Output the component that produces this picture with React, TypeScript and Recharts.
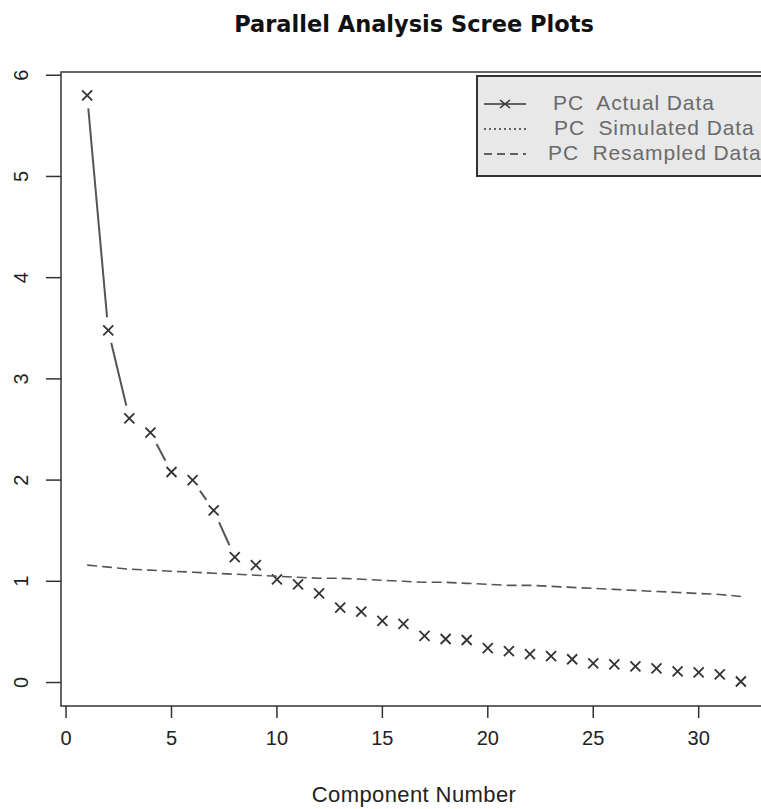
import * as React from "react";
import {
  ComposedChart,
  Line,
  Scatter,
  XAxis,
  YAxis,
  ReferenceArea,
} from "recharts";

// component numbers (x) and eigen values
const componentNumbers = [
  1, 2, 3, 4, 5, 6, 7, 8, 9, 10, 11, 12, 13, 14, 15, 16, 17, 18, 19, 20, 21,
  22, 23, 24, 25, 26, 27, 28, 29, 30, 31, 32,
];
const actualData = [
  5.8, 3.48, 2.61, 2.47, 2.08, 2.0, 1.7, 1.24, 1.16, 1.02, 0.97, 0.88, 0.74,
  0.7, 0.61, 0.58, 0.46, 0.43, 0.42, 0.34, 0.31, 0.28, 0.26, 0.23, 0.19, 0.18,
  0.16, 0.14, 0.11, 0.1, 0.08, 0.01,
];
const resampledData = [
  1.16, 1.14, 1.12, 1.11, 1.1, 1.09, 1.08, 1.07, 1.06, 1.05, 1.04, 1.03, 1.03,
  1.02, 1.01, 1.0, 0.99, 0.99, 0.98, 0.97, 0.96, 0.96, 0.95, 0.94, 0.93, 0.92,
  0.91, 0.9, 0.89, 0.88, 0.87, 0.85,
];
// index ranges where R (type = "b") had room to draw a connecting segment
const connectedRuns = [
  [0, 2],
  [3, 4],
  [5, 7],
];
const xTicks = [0, 5, 10, 15, 20, 25, 30];
const yTicks = [0, 1, 2, 3, 4, 5, 6];
const legendItems = [
  { label: "PC  Actual Data", dash: "", mark: true, indent: 75 },
  { label: "PC  Simulated Data", dash: "2 3", mark: false, indent: 76 },
  { label: "PC  Resampled Data", dash: "8 5", mark: false, indent: 70 },
];

const FONT = '"Liberation Sans", Arial, sans-serif';
const INK = "#333";

const rows = componentNumbers.map((x, i) => {
  const row: any = { x, actual: actualData[i], resampled: resampledData[i] };
  connectedRuns.forEach(([a, b], k) => {
    row["run" + k] = i >= a && i <= b ? actualData[i] : null;
  });
  return row;
});

const XMark = (props: any) => {
  const { cx, cy } = props;
  if (cx == null || cy == null) return null;
  return (
    <g>
      <circle cx={cx} cy={cy} r={13} fill="#fff" />
      <path
        d={`M${cx - 5},${cy - 5}L${cx + 5},${cy + 5}M${cx - 5},${cy + 5}L${cx + 5},${cy - 5}`}
        stroke={INK}
        strokeWidth={1.8}
      />
    </g>
  );
};

const XTick = (props: any) => {
  const { x, y, payload } = props;
  return (
    <text x={x} y={y + 25} textAnchor="middle" fontSize={20} fill="#222" fontFamily={FONT}>
      {payload.value}
    </text>
  );
};

const YTick = (props: any) => {
  const { x, y, payload } = props;
  const tx = x - 16;
  return (
    <text
      x={tx}
      y={y}
      textAnchor="middle"
      fontSize={20}
      fill="#222"
      fontFamily={FONT}
      transform={`rotate(-90, ${tx}, ${y})`}
    >
      {payload.value}
    </text>
  );
};

export default function App() {
  return (
    <div
      style={{
        position: "absolute",
        left: 0,
        top: 0,
        width: 761,
        height: 809,
        overflow: "hidden",
        background: "#fff",
        fontFamily: FONT,
      }}
    >
      <div
        style={{
          position: "absolute",
          left: 0,
          top: 11,
          width: 828,
          textAlign: "center",
          fontWeight: "bold",
          fontSize: 22.5,
          fontFamily: '"DejaVu Sans", sans-serif',
          color: "#111",
        }}
      >
        Parallel Analysis Scree Plots
      </div>
      <ComposedChart
        width={761}
        height={809}
        data={rows}
        margin={{ top: 72, right: -6, bottom: 0, left: 0 }}
      >
        <XAxis
          dataKey="x"
          type="number"
          domain={[-0.24, 33.24]}
          ticks={xTicks}
          allowDataOverflow
          axisLine={false}
          tickSize={12}
          tickLine={{ stroke: INK, strokeWidth: 1.5 }}
          tick={<XTick />}
          height={103}
          label={{
            value: "Component Number",
            position: "insideBottom",
            offset: 7,
            fill: "#222",
            fontSize: 22,
            fontFamily: FONT,
            letterSpacing: 0.4,
          }}
        />
        <YAxis
          type="number"
          domain={[-0.232, 6.032]}
          ticks={yTicks}
          allowDataOverflow
          width={61}
          axisLine={false}
          tickSize={15}
          tickLine={{ stroke: INK, strokeWidth: 1.5 }}
          tick={<YTick />}
        />
        <ReferenceArea
          x1={-0.24}
          x2={33.24}
          y1={-0.232}
          y2={6.032}
          fill="none"
          stroke={INK}
          strokeWidth={1.5}
          ifOverflow="visible"
        />
        {connectedRuns.map((_, k) => (
          <Line
            key={k}
            dataKey={"run" + k}
            stroke="#555"
            strokeWidth={2}
            dot={false}
            connectNulls={false}
            isAnimationActive={false}
          />
        ))}
        <Scatter dataKey="actual" shape={XMark} isAnimationActive={false} />
        <Line
          dataKey="resampled"
          stroke="#555"
          strokeWidth={1.6}
          strokeDasharray="10 5"
          dot={false}
          isAnimationActive={false}
          zIndex={700}
        />
      </ComposedChart>
      <div
        style={{
          position: "absolute",
          left: 476,
          top: 75,
          width: 320,
          height: 102,
          background: "#e8e8e8",
          border: "2px solid #333",
          boxSizing: "border-box",
        }}
      >
        {legendItems.map((item, i) => (
          <div
            key={i}
            style={{
              position: "absolute",
              left: 0,
              top: 15 + i * 25,
              height: 24,
              width: 320,
            }}
          >
            <svg width={50} height={24} style={{ position: "absolute", left: 4, top: 0 }}>
              <line
                x1={2}
                x2={44}
                y1={12}
                y2={12}
                stroke="#333"
                strokeWidth={1.5}
                strokeDasharray={item.dash || undefined}
              />
              {item.mark && (
                <path d="M18,8L28,16M18,16L28,8" stroke="#333" strokeWidth={1.6} />
              )}
            </svg>
            <span
              style={{
                position: "absolute",
                left: item.indent,
                top: -1,
                fontSize: 21,
                letterSpacing: 0.9,
                color: "#6a6a6a",
                whiteSpace: "pre",
              }}
            >
              {item.label}
            </span>
          </div>
        ))}
      </div>
    </div>
  );
}
